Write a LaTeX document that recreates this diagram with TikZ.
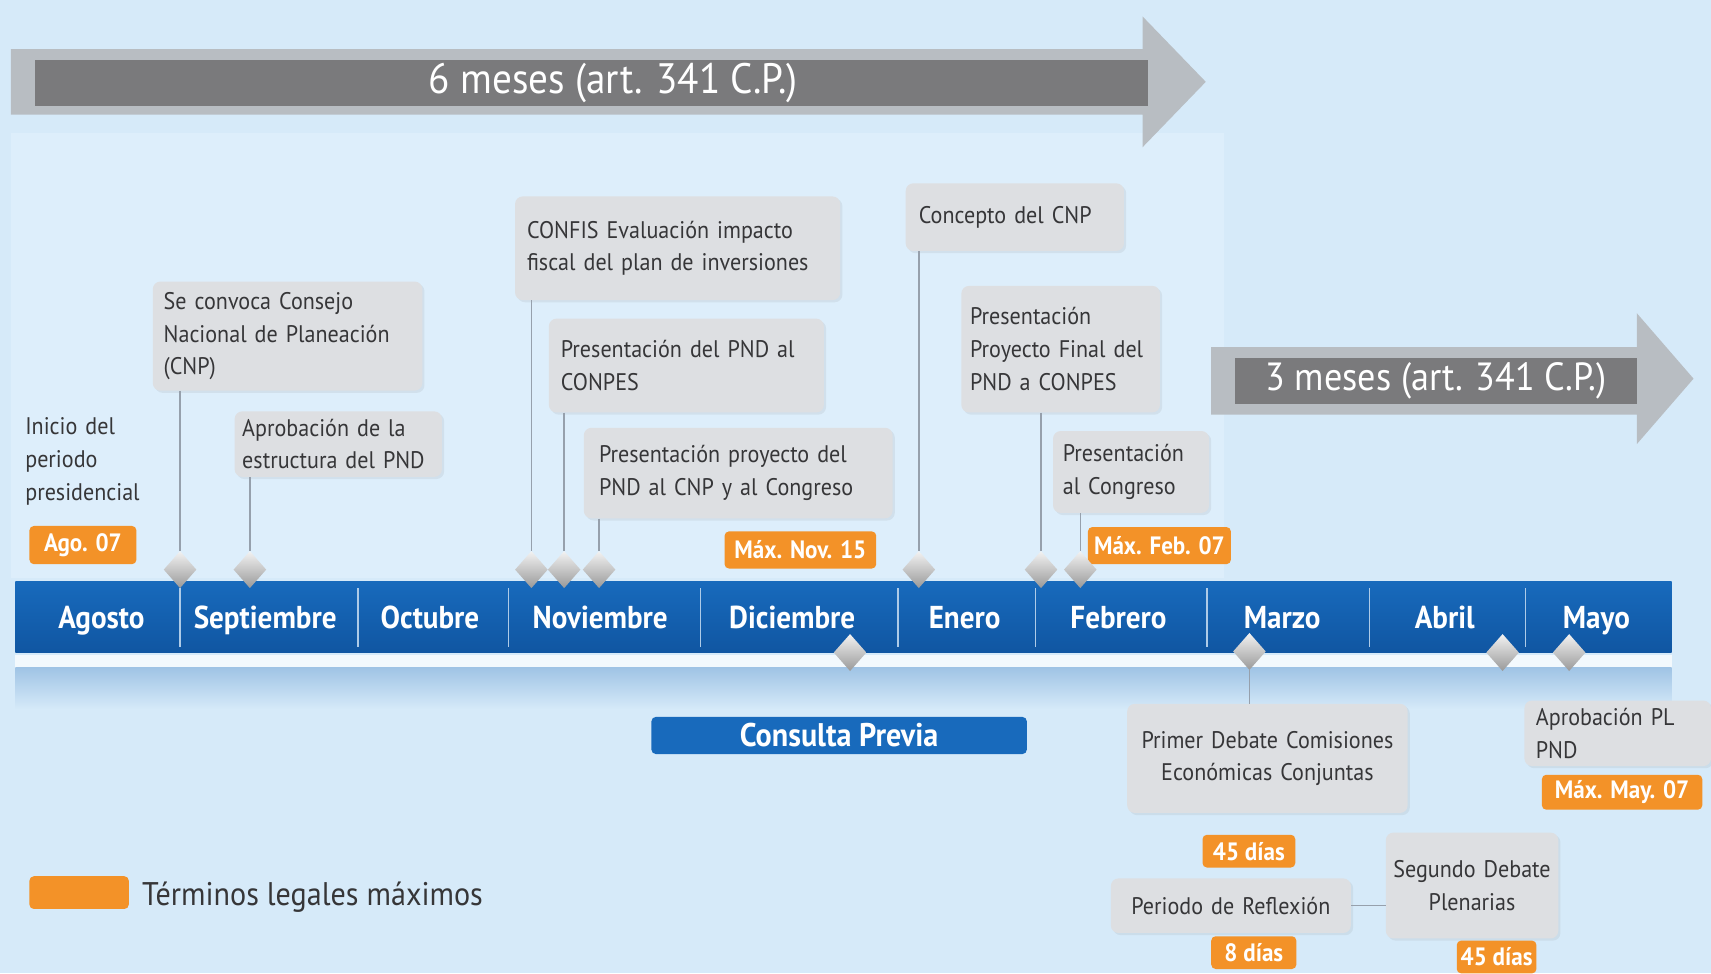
\documentclass[tikz,border=0pt]{standalone}
\usepackage{fontspec}
\setmainfont{PT Sans}[FakeStretch=0.92]
\usetikzlibrary{shapes.geometric,shadows}
\definecolor{bg}{RGB}{214,234,249}
\definecolor{panel}{RGB}{221,238,251}
\definecolor{arrowgray}{RGB}{184,189,194}
\definecolor{darkgraytwo}{RGB}{122,122,124}
\definecolor{boxgray}{RGB}{221,223,226}
\definecolor{txtgray}{RGB}{54,54,56}
\definecolor{orng}{RGB}{243,146,40}
\definecolor{barblue}{RGB}{24,106,188}
\definecolor{barbluedark}{RGB}{16,86,162}
\definecolor{conncol}{RGB}{150,160,172}
\newcommand\boxfnt{\fontsize{22}{30}\selectfont}
\newcommand\ofnt{\fontsize{23}{26}\selectfont\bfseries}
\newcommand\mfnt{\fontsize{29}{32}\selectfont}
\newcommand\bigfnt{\fontsize{39}{42}\selectfont}
\tikzset{
 gbox/.style={rectangle, rounded corners=7pt, fill=boxgray, text=txtgray, inner sep=0pt, font=\boxfnt, align=left,
   drop shadow={opacity=0.12, shadow xshift=2pt, shadow yshift=-2pt}},
 obox/.style={rectangle, rounded corners=4pt, fill=orng, text=white, font=\ofnt, inner sep=0pt},
 dmd/.style={diamond, minimum width=30pt, minimum height=34pt, inner sep=0pt, top color=white!90!gray, bottom color=gray!80},
 conn/.style={draw=conncol, line width=1.3pt},
 month/.style={text=white, font=\mfnt\bfseries, inner sep=0pt, anchor=base},
 sepline/.style={draw=white!65!barblue, line width=1.2pt},
}
\begin{document}
\begin{tikzpicture}[x=1pt,y=-1pt]
\fill[bg] (0,0) rectangle (1568,892);
\useasboundingbox (0,0) rectangle (1568,892);
\fill[panel] (10,122) rectangle (1122,530);

% top arrow
\fill[arrowgray] (10,45) -- (1047,45) -- (1047,15) -- (1105,75) -- (1047,135) -- (1047,105) -- (10,105) -- cycle;
\node[fill=darkgraytwo, minimum width=1020pt, minimum height=42pt, inner sep=0pt] (six) at (542,76) {};
\node[text=white, font=\bigfnt, inner sep=0pt] (sixtxt) at (562,76) {6 meses (art. 341 C.P.)};
% second arrow
\fill[arrowgray] (1110,318) -- (1500,318) -- (1500,287) -- (1552,347) -- (1500,407) -- (1500,380) -- (1110,380) -- cycle;
\node[fill=darkgraytwo, minimum width=368pt, minimum height=42pt, inner sep=0pt, text=white, font=\fontsize{36}{38}\selectfont] (three) at (1316,349) {3 meses (art. 341 C.P.)};

% reflection strip
\fill[white!70!bg] (14,600) rectangle (1532,612);
\shade[top color={rgb,255:red,160;green,196;blue,229}, bottom color=bg] (14,612) rectangle (1532,650);

% timeline bar
\node[rectangle, minimum width=1518pt, minimum height=65pt, inner sep=0pt, top color=barblue, bottom color=barbluedark] (bar) at (773,565.5) {};
\foreach \sx in {165,328,466,642,823,949,1106,1255,1398}
  \draw[sepline] (\sx,539) -- (\sx,593);
\node[month] (m1) at (93,576) {Agosto};
\node[month] (m2) at (243,576) {Septiembre};
\node[month] (m3) at (394,576) {Octubre};
\node[month] (m4) at (550,576) {Noviembre};
\node[month] (m5) at (726,576) {Diciembre};
\node[month] (m6) at (884,576) {Enero};
\node[month] (m7) at (1025,576) {Febrero};
\node[month] (m8) at (1175,576) {Marzo};
\node[month] (m9) at (1324,576) {Abril};
\node[month] (m10) at (1463,576) {Mayo};

% boxes above
\node[text=txtgray, font=\boxfnt, align=left, anchor=west, inner sep=0pt, text width=125pt] (inicio) at (23,423) {Inicio del\\periodo\\presidencial};
\node[obox, minimum width=98pt, minimum height=35pt] (ago) at (76,499.5) {Ago. 07};
\node[gbox, minimum width=247pt, minimum height=100pt, text width=227pt] (cnp) at (263.5,308) {Se convoca Consejo\\Nacional de Planeación\\(CNP)};
\node[gbox, minimum width=190pt, minimum height=60pt, text width=176pt] (apr) at (310,407) {Aprobación de la\\estructura del PND};
\node[gbox, minimum width=298pt, minimum height=95pt, text width=276pt] (confis) at (621,227.5) {CONFIS Evaluación impacto\\fiscal del plan de inversiones};
\node[gbox, minimum width=252pt, minimum height=86pt, text width=230pt] (conpes) at (629,335) {Presentación del PND al\\CONPES};
\node[gbox, minimum width=283pt, minimum height=83pt, text width=255pt] (proy) at (676.5,433.5) {Presentación proyecto del\\PND al CNP y al Congreso};
\node[obox, minimum width=139pt, minimum height=34pt] (nov) at (733.5,504) {Máx. Nov. 15};
\node[gbox, minimum width=200pt, minimum height=62pt, text width=176pt] (concepto) at (930,199) {Concepto del CNP};
\node[gbox, minimum width=182pt, minimum height=116pt, text width=166pt] (final) at (972,320) {Presentación\\Proyecto Final del\\PND a CONPES};
\node[gbox, minimum width=143pt, minimum height=75pt, text width=125pt] (congreso) at (1036.5,432.5) {Presentación\\al Congreso};
\node[obox, minimum width=131pt, minimum height=34pt] (feb) at (1062.5,500) {Máx. Feb. 07};

% boxes below
\node[gbox, minimum width=257pt, minimum height=100pt, text width=250pt, align=center] (primer) at (1161.5,695) {Primer Debate Comisiones\\Económicas Conjuntas};
\node[obox, minimum width=85pt, minimum height=30pt] (dias1) at (1144.5,780) {45 días};
\node[gbox, minimum width=220pt, minimum height=50pt, text width=214pt, align=center] (refl) at (1128,830) {Periodo de Reflexión};
\node[obox, minimum width=78pt, minimum height=30pt] (dias2) at (1149,873) {8 días};
\node[gbox, minimum width=158pt, minimum height=97pt, text width=154pt, align=center] (segundo) at (1349,811.5) {Segundo Debate\\Plenarias};
\node[obox, minimum width=73pt, minimum height=30pt] (dias3) at (1371.5,877) {45 días};
\node[gbox, minimum width=171pt, minimum height=60pt, text width=150pt] (aprpl) at (1482.5,672) {Aprobación PL\\PND};
\node[obox, minimum width=147pt, minimum height=32pt] (may) at (1486.5,726) {Máx. May. 07};
\node[rectangle, rounded corners=4pt, fill=barblue, text=white, minimum width=344pt, minimum height=34pt, inner sep=0pt, font=\fontsize{30}{32}\selectfont\bfseries] (consulta) at (769,674) {Consulta Previa};

% legend
\node[obox, minimum width=91pt, minimum height=30pt] (leg) at (72.5,818) {};
\node[text=txtgray, font=\fontsize{30}{32}\selectfont, anchor=west, inner sep=0pt] (legtxt) at (130,822) {Términos legales máximos};

% diamonds
\node[dmd] (d1) at (165,522) {};
\node[dmd] (d2) at (229,522) {};
\node[dmd] (d3) at (487,522) {};
\node[dmd] (d4) at (517,522) {};
\node[dmd] (d5) at (549,522) {};
\node[dmd] (d6) at (842,522) {};
\node[dmd] (d7) at (954,522) {};
\node[dmd] (d8) at (990,522) {};
\node[dmd] (e1) at (779,598) {};
\node[dmd] (e2) at (1145,597) {};
\node[dmd] (e3) at (1377,598) {};
\node[dmd] (e4) at (1438,598) {};

% connectors
\draw[conn] (d1 |- cnp.south) -- (d1.north);
\draw[conn] (d2 |- apr.south) -- (d2.north);
\draw[conn] (d3 |- confis.south) -- (d3.north);
\draw[conn] (d4 |- conpes.south) -- (d4.north);
\draw[conn] (d5 |- proy.south) -- (d5.north);
\draw[conn] (d6 |- concepto.south) -- (d6.north);
\draw[conn] (d7 |- final.south) -- (d7.north);
\draw[conn] (d8 |- congreso.south) -- (d8.north);
\draw[conn] (e2.south) -- (e2 |- primer.north);
\draw[conn] (refl.east) -- (refl.east -| segundo.west);
\end{tikzpicture}
\end{document}
